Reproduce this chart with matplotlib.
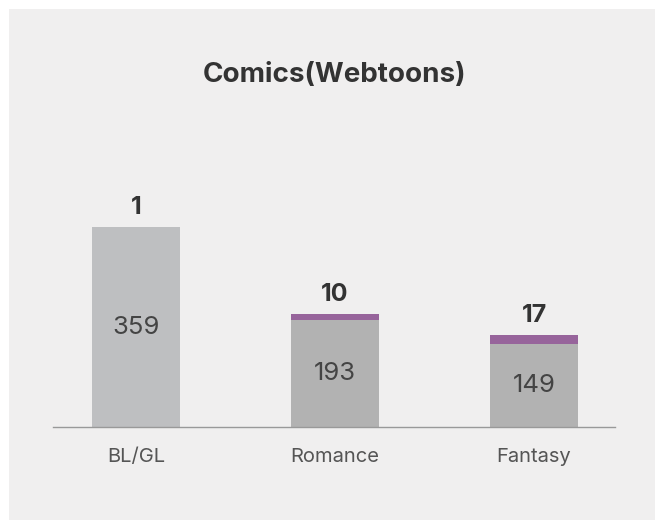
import matplotlib.pyplot as plt
from matplotlib.patches import Rectangle

plt.rcParams['font.family'] = ['Inter', 'DejaVu Sans']

categories = ['BL/GL', 'Romance', 'Fantasy']
base_values = [359, 193, 149]
top_values = [1, 10, 17]

grey_colors = ['#bebfc1', '#b2b2b2', '#b2b2b2']
purple = '#97649b'
panel = '#f0efef'

fig = plt.figure(figsize=(6.55, 5.22), dpi=100)
fig.patch.set_facecolor('white')
fig.patches.append(Rectangle((9 / 655, 2 / 522), 646 / 655, 511 / 522,
                             transform=fig.transFigure, facecolor=panel,
                             edgecolor='none', zorder=-1))

ax = fig.add_axes([53 / 655, (522 - 427) / 522, 562 / 655, 327 / 522])
ax.set_facecolor('none')

x = list(range(len(categories)))
ax.bar(x, base_values, width=0.442, color=grey_colors)
ax.bar(x, top_values, width=0.442, bottom=base_values, color=purple)

for i in x:
    ax.text(i, base_values[i] / 2, str(base_values[i]), ha='center', va='center',
            fontsize=18.5, color='#444444')
    ax.text(i, base_values[i] + top_values[i] + 14, str(top_values[i]),
            ha='center', va='bottom', fontsize=18, fontweight='bold', color='#333333')

ax.set_xlim(-0.417, 2.407)
ax.set_ylim(0, 588)
ax.set_xticks(x)
ax.set_xticklabels(categories, fontsize=14.5, color='#555555')
ax.tick_params(axis='x', length=0, pad=15)
ax.set_yticks([])
for s in ['top', 'left', 'right']:
    ax.spines[s].set_visible(False)
ax.spines['bottom'].set_color('#999999')
ax.spines['bottom'].set_linewidth(1)

fig.text(335 / 655, 1 - 75 / 522, 'Comics(Webtoons)', ha='center', va='center',
         fontsize=20, fontweight='bold', color='#333333')

fig.savefig('out.png', dpi=100, facecolor=fig.get_facecolor())
